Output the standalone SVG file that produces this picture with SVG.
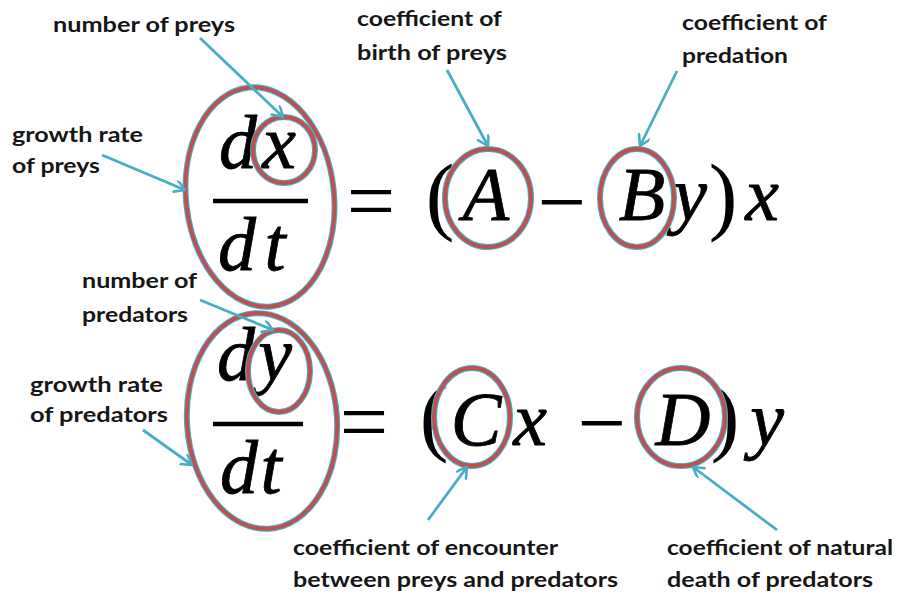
<svg xmlns="http://www.w3.org/2000/svg" width="898" height="597" viewBox="0 0 898 597">
<defs>
<marker id="ah" markerUnits="userSpaceOnUse" markerWidth="14" markerHeight="14" refX="11" refY="6" orient="auto">
<path d="M1,0 L11,6 L1,12" fill="none" stroke="#4bacc6" stroke-width="2.6" stroke-linecap="round" stroke-linejoin="round"/>
</marker>
</defs>
<style>
.lbl{font-family:Lato,"Open Sans","Liberation Sans",sans-serif;font-size:20px;font-weight:700;fill:#161616;}
.mi{font-family:"Liberation Serif","DejaVu Serif",serif;font-style:italic;font-size:76px;fill:#000;text-anchor:middle;stroke:#000;stroke-width:0.8;}
.mo{font-family:"Liberation Serif","DejaVu Serif",serif;font-size:86px;fill:#000;text-anchor:middle;}
.bar{stroke:#000;stroke-width:4.5;}
.ro{fill:none;stroke:#4bacc6;stroke-width:6;}
.ri{fill:none;stroke:#c0504d;stroke-width:3.8;}
.arr{fill:none;stroke:#4bacc6;stroke-width:2.8;marker-end:url(#ah);}
</style>
<rect width="898" height="597" fill="#fff"/>

<g id="eq1">
<text class="mi" x="238" y="168">d</text>
<text class="mi" x="279" y="168">x</text>
<line class="bar" x1="213" y1="201" x2="308" y2="201"/>
<text class="mi" x="237" y="270">d</text>
<text class="mi" x="275" y="270">t</text>
<text class="mo" x="371" y="230">=</text>
<text class="mo" x="440" y="224">(</text>
<text class="mi" x="486" y="220">A</text>
<text class="mo" x="562" y="231">−</text>
<text class="mi" x="642" y="220">B</text>
<text class="mi" x="690" y="220">y</text>
<text class="mo" x="723" y="224">)</text>
<text class="mi" x="762" y="220">x</text>
</g>

<g id="eq2">
<text class="mi" x="236" y="380">d</text>
<text class="mi" x="275" y="380">y</text>
<line class="bar" x1="213" y1="424" x2="303" y2="424"/>
<text class="mi" x="239" y="493">d</text>
<text class="mi" x="271" y="493">t</text>
<text class="mo" x="364" y="451">=</text>
<text class="mo" x="434" y="445">(</text>
<text class="mi" x="476" y="445">C</text>
<text class="mi" x="530" y="445">x</text>
<text class="mo" x="602" y="452">−</text>
<text class="mi" x="683" y="445">D</text>
<text class="mo" x="725" y="445">)</text>
<text class="mi" x="767" y="445">y</text>
</g>

<g id="ell-growth-preys"><ellipse class="ro" cx="260" cy="197" rx="74" ry="110" transform="rotate(-6 260 197)"/><ellipse class="ri" cx="260" cy="197" rx="74" ry="110" transform="rotate(-6 260 197)"/></g>
<g id="ell-x"><ellipse class="ro" cx="284" cy="150" rx="31" ry="33"/><ellipse class="ri" cx="284" cy="150" rx="31" ry="33"/></g>
<g id="ell-A"><ellipse class="ro" cx="488" cy="198" rx="43" ry="49"/><ellipse class="ri" cx="488" cy="198" rx="43" ry="49"/></g>
<g id="ell-B"><ellipse class="ro" cx="637" cy="198" rx="37" ry="49"/><ellipse class="ri" cx="637" cy="198" rx="37" ry="49"/></g>
<g id="ell-growth-pred"><ellipse class="ro" cx="262" cy="421" rx="75" ry="108" transform="rotate(-4 262 421)"/><ellipse class="ri" cx="262" cy="421" rx="75" ry="108" transform="rotate(-4 262 421)"/></g>
<g id="ell-y"><ellipse class="ro" cx="279" cy="371" rx="31" ry="41"/><ellipse class="ri" cx="279" cy="371" rx="31" ry="41"/></g>
<g id="ell-C"><ellipse class="ro" cx="472" cy="417" rx="38" ry="49"/><ellipse class="ri" cx="472" cy="417" rx="38" ry="49"/></g>
<g id="ell-D"><ellipse class="ro" cx="681" cy="417" rx="44" ry="49"/><ellipse class="ri" cx="681" cy="417" rx="44" ry="49"/></g>

<g id="lbl-number-preys"><text class="lbl" x="53" y="32" textLength="182" lengthAdjust="spacingAndGlyphs">number of preys</text></g>
<g id="lbl-birth"><text class="lbl" x="357" y="26" textLength="145" lengthAdjust="spacingAndGlyphs">coefficient of</text><text class="lbl" x="357" y="60" textLength="150" lengthAdjust="spacingAndGlyphs">birth of preys</text></g>
<g id="lbl-predation"><text class="lbl" x="682" y="30" textLength="145" lengthAdjust="spacingAndGlyphs">coefficient of</text><text class="lbl" x="682" y="63" textLength="106" lengthAdjust="spacingAndGlyphs">predation</text></g>
<g id="lbl-growth-preys"><text class="lbl" x="12" y="142" textLength="131" lengthAdjust="spacingAndGlyphs">growth rate</text><text class="lbl" x="12" y="173" textLength="88" lengthAdjust="spacingAndGlyphs">of preys</text></g>
<g id="lbl-number-pred"><text class="lbl" x="82" y="288" textLength="115" lengthAdjust="spacingAndGlyphs">number of</text><text class="lbl" x="82" y="322" textLength="106" lengthAdjust="spacingAndGlyphs">predators</text></g>
<g id="lbl-growth-pred"><text class="lbl" x="30" y="392" textLength="133" lengthAdjust="spacingAndGlyphs">growth rate</text><text class="lbl" x="30" y="422" textLength="138" lengthAdjust="spacingAndGlyphs">of predators</text></g>
<g id="lbl-encounter"><text class="lbl" x="293" y="555" textLength="265" lengthAdjust="spacingAndGlyphs">coefficient of encounter</text><text class="lbl" x="293" y="587" textLength="325" lengthAdjust="spacingAndGlyphs">between preys and predators</text></g>
<g id="lbl-death"><text class="lbl" x="667" y="555" textLength="226" lengthAdjust="spacingAndGlyphs">coefficient of natural</text><text class="lbl" x="667" y="587" textLength="206" lengthAdjust="spacingAndGlyphs">death of predators</text></g>

<g id="connectors">
<line class="arr" x1="200" y1="38" x2="283" y2="117"/>
<line class="arr" x1="102" y1="155" x2="185" y2="190"/>
<line class="arr" x1="447" y1="70" x2="488" y2="146"/>
<line class="arr" x1="677" y1="71" x2="640" y2="146"/>
<line class="arr" x1="200" y1="300" x2="273" y2="330"/>
<line class="arr" x1="143" y1="430" x2="192" y2="465"/>
<line class="arr" x1="428" y1="520" x2="467" y2="467"/>
<line class="arr" x1="777" y1="530" x2="693" y2="467"/>
</g>
</svg>
